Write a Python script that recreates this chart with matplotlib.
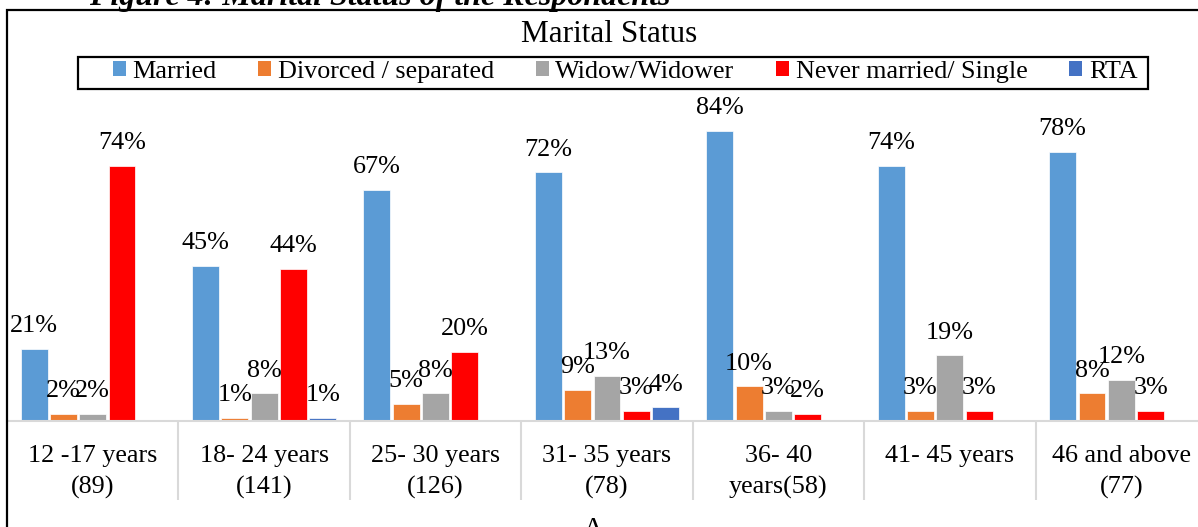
import numpy as np
import matplotlib.pyplot as plt
from matplotlib.patches import Rectangle, Patch

plt.rcParams['font.family'] = ['Liberation Serif', 'DejaVu Serif']

W, H = 1198, 527

categories = ['12 -17 years\n(89)', '18- 24 years\n(141)', '25- 30 years\n(126)',
              '31- 35 years\n(78)', '36- 40\nyears(58)', '41- 45 years',
              '46 and above\n(77)']
series = ['Married', 'Divorced / separated', 'Widow/Widower',
          'Never married/ Single', 'RTA']
married = [21, 45, 67, 72, 84, 74, 78]
divorced = [2, 1, 5, 9, 10, 3, 8]
widow = [2, 8, 8, 13, 3, 19, 12]
never_married = [74, 44, 20, 3, 2, 3, 3]
rta = [0, 1, 0, 4, 0, 0, 0]
colors = ['#5B9BD5', '#ED7D31', '#A5A5A5', '#FF0000', '#4472C4']


def fx(px):
    return px / W


def fy(py):
    return 1 - py / H


fig = plt.figure(figsize=(W / 100, H / 100), dpi=100)

# axes in pixel coords: left 7, right 1207, baseline 421, top 100
ax = fig.add_axes([fx(7), fy(421), fx(1207) - fx(7), (421 - 100) / H])

x = np.arange(len(categories))
step = 0.171
width = 0.157
data = [married, divorced, widow, never_married, rta]
for i, (vals, col) in enumerate(zip(data, colors)):
    pos = x + (i - 2) * step
    ax.bar(pos, vals, width, color=col, edgecolor='white', linewidth=0.5)
    for p, v in zip(pos, vals):
        if v > 0:
            ax.annotate(f'{v}%', (p, v), xytext=(0, 12), textcoords='offset points',
                        ha='center', va='baseline', fontsize=18.8)

ax.set_xlim(-0.5, len(categories) - 0.5)
ax.set_ylim(0, 93)
ax.set_yticks([])
for s in ['top', 'right', 'left']:
    ax.spines[s].set_visible(False)
ax.spines['bottom'].set_color('#D9D9D9')
ax.spines['bottom'].set_linewidth(1.5)

ax.set_xticks(x)
ax.set_xticklabels(categories, fontsize=18.8, linespacing=1.55, va='top')
ax.tick_params(axis='x', which='major', length=0, pad=17)
ax.set_xticks(x[:-1] + 0.5, minor=True)
ax.tick_params(axis='x', which='minor', length=57, width=1.5, color='#D9D9D9',
               direction='out')

# outer chart frame
fig.patches.append(Rectangle((fx(7), fy(540)), fx(1250) - fx(7), fy(10) - fy(540),
                             transform=fig.transFigure, fill=False,
                             edgecolor='black', linewidth=1.6))

# title
fig.text(fx(609), fy(35), 'Marital Status', ha='center', va='center', fontsize=22.5)

# legend box
fig.patches.append(Rectangle((fx(78), fy(89)), fx(1148) - fx(78), fy(57) - fy(89),
                             transform=fig.transFigure, fill=False,
                             edgecolor='black', linewidth=1.6))
handles = [Patch(facecolor=c, edgecolor='none') for c in colors]
fig.legend(handles, series, loc='center', bbox_to_anchor=(fx(625), fy(72)),
           ncol=5, frameon=False, fontsize=18.8, handlelength=0.5,
           handleheight=0.5, handletextpad=0.25, columnspacing=1.6,
           borderpad=0, borderaxespad=0)

# cut-off caption above and text below
fig.text(fx(380), fy(5), 'Figure 4: Marital Status of the Respondents',
         ha='center', va='baseline', fontsize=23, fontweight='bold',
         fontstyle='italic')
fig.text(fx(593), fy(517), 'A', ha='center', va='top', fontsize=21)

fig.savefig('out.png', dpi=100)
